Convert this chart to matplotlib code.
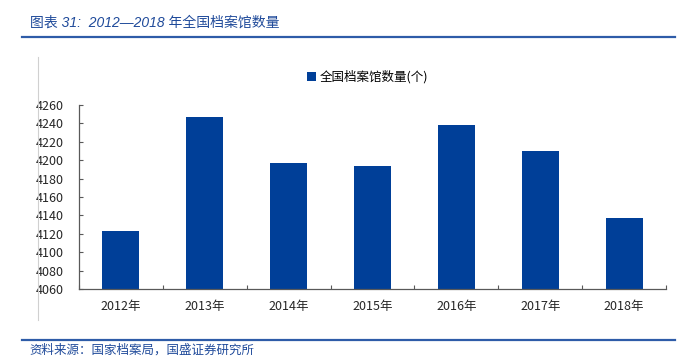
import matplotlib
matplotlib.use('Agg')
from matplotlib import pyplot as plt
from matplotlib.lines import Line2D
from matplotlib.patches import Patch
import numpy as np

plt.rcParams['font.family'] = ['Noto Sans CJK SC', 'DejaVu Sans']

# data
years = ['2012年', '2013年', '2014年', '2015年', '2016年', '2017年', '2018年']
archives = [4123, 4247, 4197, 4194, 4238, 4210, 4137]
y_ticks = list(range(4060, 4261, 20))

bar_color = '#003f98'
head_blue = '#1f4a9a'
line_blue = '#2e5ca8'

fig = plt.figure(figsize=(6.91, 3.59), dpi=100)
ax = fig.add_axes([0.1143, 0.195, 0.8495, 0.5125])

x = np.arange(len(years))
ax.bar(x, archives, width=0.44, color=bar_color, zorder=2)

ax.set_ylim(4060, 4260)
ax.set_yticks(y_ticks)
ax.set_xlim(-0.5, len(years) - 0.5)
ax.set_xticks(x)
ax.set_xticklabels(years)
ax.set_xticks(np.arange(-0.5, len(years) + 0.5, 1), minor=True)

ax.spines['top'].set_visible(False)
ax.spines['right'].set_visible(False)
for s in ['left', 'bottom']:
    ax.spines[s].set_color('#595959')
    ax.spines[s].set_linewidth(0.9)

ax.tick_params(axis='y', direction='in', length=3, width=0.8, color='#595959',
               labelsize=9, pad=11, labelcolor='#262626')
ax.tick_params(axis='x', which='major', length=0, labelsize=9, pad=8, labelcolor='#262626')
ax.tick_params(axis='x', which='minor', direction='in', length=3, width=0.8, color='#595959')

# legend
handle = Patch(facecolor=bar_color, edgecolor='none')
fig.legend([handle], ['全国档案馆数量(个)'], loc='center', bbox_to_anchor=(0.532, 0.785),
           frameon=False, fontsize=9, handlelength=0.7, handleheight=0.7,
           handletextpad=0.3)

# header / footer
fig.text(0.043, 0.936, '图表 31:  2012—2018 年全国档案馆数量', fontsize=10,
         color=head_blue, style='italic', va='center', ha='left',
         family=['Liberation Sans', 'Noto Sans CJK SC'])
fig.add_artist(Line2D([0.032, 0.977], [0.896, 0.896], color=line_blue, linewidth=1.6))
fig.add_artist(Line2D([0.032, 0.977], [0.052, 0.052], color=line_blue, linewidth=1.6))
fig.text(0.043, 0.025, '资料来源：国家档案局，国盛证券研究所', fontsize=9,
         color=head_blue, style='italic', va='center', ha='left')

# faint frame edge at left
fig.add_artist(Line2D([0.055, 0.055], [0.11, 0.84], color='#d0d0d0', linewidth=0.8))

plt.savefig('out.png', dpi=100)
